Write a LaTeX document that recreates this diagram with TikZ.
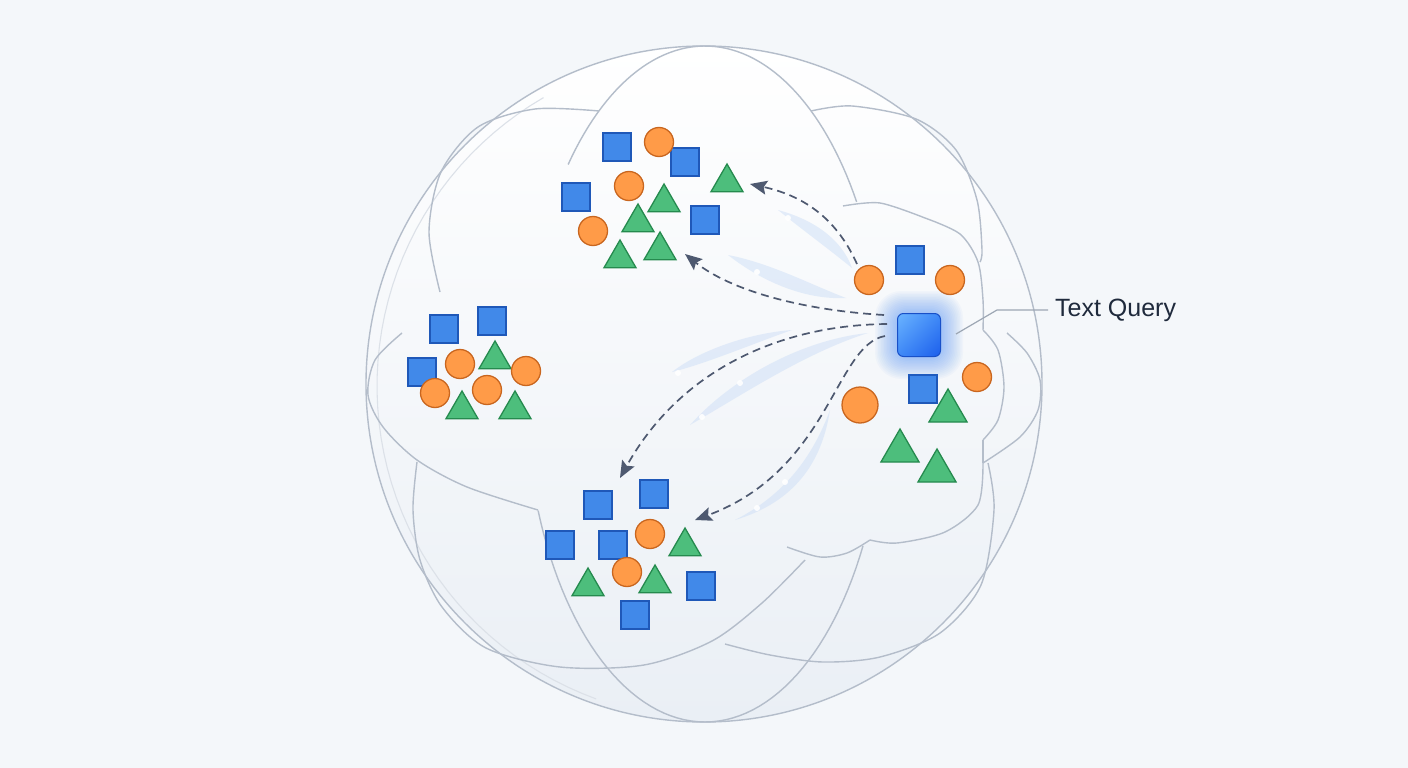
\documentclass[tikz,border=0pt]{standalone}
\usepackage{fontspec}
\setmainfont{Liberation Sans}
\usetikzlibrary{arrows.meta,shapes.geometric,shadings}
\definecolor{bg}{HTML}{F4F7FA}
\definecolor{sphB}{HTML}{EAEFF5}
\definecolor{wire}{HTML}{B4BDCA}
\definecolor{wireL}{HTML}{DCE1E8}
\definecolor{sqF}{HTML}{4189E9}
\definecolor{sqD}{HTML}{1F58B8}
\definecolor{ciF}{HTML}{FF9B48}
\definecolor{ciD}{HTML}{C9661F}
\definecolor{trF}{HTML}{4DBE7C}
\definecolor{trD}{HTML}{258A4E}
\definecolor{arr}{HTML}{4E5970}
\definecolor{streakC}{HTML}{C8DBF6}
\definecolor{qA}{HTML}{6BB4FF}
\definecolor{qB}{HTML}{1C5EEB}
\definecolor{qM}{HTML}{3F89F7}
\definecolor{glow}{HTML}{3B82F6}
\definecolor{txt}{HTML}{1F2A3C}
\definecolor{lead}{HTML}{9DA7B4}
\begin{document}
\begin{tikzpicture}[x=1pt,y=-1pt,
  sq/.style={rectangle,draw=sqD,fill=sqF,line width=1.3pt,minimum size=28pt,inner sep=0pt},
  ci/.style={circle,draw=ciD,fill=ciF,line width=1.3pt,minimum size=29pt,inner sep=0pt},
  bigci/.style={ci,minimum size=36pt},
  tr/.style={regular polygon,regular polygon sides=3,draw=trD,fill=trF,line width=1.3pt,minimum size=37pt,inner sep=0pt},
  bigtr/.style={tr,minimum size=44pt},
  wireline/.style={draw=wire,line width=1.4pt},
  wirefaint/.style={draw=wireL,line width=1.1pt},
  dasharrow/.style={draw=arr,line width=1.7pt,dash pattern=on 8pt off 5pt,-{Stealth[length=17pt,width=14pt,inset=3pt]}},
  streak/.style={fill=streakC,opacity=0.45},
  sdot/.style={fill=white,opacity=0.9},
  glowbox/.style={fill=glow,inner sep=0pt,opacity=0.035}
]
\fill[bg] (0,0) rectangle (1408,768);
\useasboundingbox (0,0) rectangle (1408,768);

% sphere body
\shade[top color=white,bottom color=sphB] (704,384) circle[radius=338];
\draw[wireline] (704,384) circle[radius=338];
\draw[wirefaint] plot[domain=120:250,samples=50] ({710+333*cos(\x)},{386-333*sin(\x)});

% meridian
\draw[wireline] plot[domain=32.6:139.5,samples=60] ({705+180*cos(\x)},{384-338*sin(\x)});
\draw[wireline] plot[domain=202:331.4,samples=60] ({705+180*cos(\x)},{384-338*sin(\x)});

% equator pieces
\draw[wireline] plot[smooth] coordinates {(402,333) (375,360) (368,395) (383,427) (417,460) (467,487) (538,510)};
\draw[wireline] plot[smooth] coordinates {(1007,333) (1027,353) (1040,380) (1038,410) (1020,437) (983,463)};

% lobes
\draw[wireline] plot[smooth] coordinates {(440,292) (429,232) (441,172) (478,127) (535,109) (599,111)};
\draw[wireline] plot[smooth] coordinates {(811,111) (852,106) (916,119) (956,150) (977,200) (982,250) (980,262)};
\draw[wireline] plot[smooth] coordinates {(417,462) (413,510) (420,560) (442,607) (486,648) (560,667) (644,665) (712,641) (762,603) (805,560)};
\draw[wireline] plot[smooth] coordinates {(988,463) (994,510) (981,585) (940,633) (880,657) (823,662) (770,655) (725,644)};

% cloud around the query
\draw[wireline] plot[smooth] coordinates {(843,206) (880,203) (925,218)};
\draw[wireline] plot[smooth] coordinates {(925,218) (960,234) (978,262) (983,300) (983,330)};
\draw[wireline] plot[smooth] coordinates {(983,330) (998,350) (1004,387) (998,420) (983,440)};
\draw[wireline] (983,440) -- (983,463);
\draw[wireline] plot[smooth] coordinates {(983,463) (978,505) (945,532) (897,543) (870,540)};
\draw[wireline] plot[smooth] coordinates {(870,540) (847,553) (820,557) (787,547)};

% streaks
\fill[streak] (778,210) .. controls (815,220) and (842,240) .. (852,268) .. controls (830,250) and (800,228) .. cycle;
\fill[streak] (728,255) .. controls (770,263) and (812,285) .. (846,298) .. controls (808,300) and (765,284) .. cycle;
\fill[streak] (672,372) .. controls (700,350) and (750,333) .. (792,330) .. controls (755,343) and (705,364) .. cycle;
\fill[streak] (690,425) .. controls (730,380) and (800,340) .. (868,333) .. controls (805,353) and (742,395) .. cycle;
\fill[streak] (735,520) .. controls (790,492) and (815,450) .. (830,410) .. controls (822,462) and (795,502) .. cycle;
\foreach \p in {(788,218),(757,272),(678,373),(702,417),(740,383),(757,508),(785,482)}
  \fill[sdot] \p circle[radius=3];

% top cluster
\node[sq] (t1) at (617,147) {};
\node[sq] (t2) at (685,162) {};
\node[sq] (t3) at (576,197) {};
\node[sq] (t4) at (705,220) {};
\node[ci] (t5) at (659,142) {};
\node[ci] (t6) at (629,186) {};
\node[ci] (t7) at (593,231) {};
\node[tr] (t8) at (727,182.5) {};
\node[tr] (t9) at (664,202.5) {};
\node[tr] (t10) at (638,222.5) {};
\node[tr] (t11) at (620,258.5) {};
\node[tr] (t12) at (660,250.5) {};

% left cluster
\node[sq] (l1) at (444,329) {};
\node[sq] (l2) at (492,321) {};
\node[sq] (l3) at (422,372) {};
\node[ci] (l4) at (460,364) {};
\node[tr] (l5) at (495,359.5) {};
\node[ci] (l6) at (526,371) {};
\node[ci] (l7) at (435,393) {};
\node[ci] (l8) at (487,390) {};
\node[tr] (l9) at (462,409.5) {};
\node[tr] (l10) at (515,409.5) {};

% bottom cluster
\node[sq] (b1) at (598,505) {};
\node[sq] (b2) at (654,494) {};
\node[sq] (b3) at (560,545) {};
\node[sq] (b4) at (613,545) {};
\node[sq] (b5) at (701,586) {};
\node[sq] (b6) at (635,615) {};
\node[ci] (b7) at (650,534) {};
\node[ci] (b8) at (627,572) {};
\node[tr] (b9) at (685,546.5) {};
\node[tr] (b10) at (588,586.5) {};
\node[tr] (b11) at (655,583.5) {};

% query cluster
\node[ci] (r1) at (869,280) {};
\node[sq] (r2) at (910,260) {};
\node[ci] (r3) at (950,280) {};
\node[ci] (r4) at (977,377) {};
\node[sq] (r5) at (923,389) {};
\node[bigtr] (r6) at (948,411) {};
\node[bigci] (r7) at (860,405) {};
\node[bigtr] (r8) at (900,451) {};
\node[bigtr] (r9) at (937,471) {};

% glow + query
\foreach \s in {46,49,...,88}
  \node[glowbox,minimum size=\s pt,rounded corners={\s*0.3}] at (919,335) {};
\node[rectangle,rounded corners=6pt,minimum size=43pt,inner sep=0pt,draw=qB!85!black,line width=1pt,
      shade,upper left=qA,lower right=qB,upper right=qM,lower left=qM] (q) at (919,335) {};

% arrows
\coordinate (a1s) at (857,264); \coordinate (a1e) at (750,184);
\coordinate (a2s) at (884,315); \coordinate (a2e) at (685,254);
\coordinate (a3s) at (887,324); \coordinate (a3e) at (620,478);
\coordinate (a4s) at (885,336); \coordinate (a4e) at (695,520);
\draw[dasharrow] (a1s) .. controls (835,215) and (800,195) .. (a1e);
\draw[dasharrow] (a2s) .. controls (800,310) and (730,290) .. (a2e);
\draw[dasharrow] (a3s) .. controls (780,325) and (680,370) .. (a3e);
\draw[dasharrow] (a4s) .. controls (835,345) and (830,470) .. (a4e);

% label
\node[anchor=west,text=txt,font=\fontsize{25}{30}\selectfont,inner sep=0pt] (tq) at (1055,310) {Text Query};
\coordinate (ql) at (956,334);
\coordinate (qk) at (997,310);
\draw[lead,line width=1.2pt] (ql) -- (qk) -- ([xshift=-7pt]tq.west);
\end{tikzpicture}
\end{document}
